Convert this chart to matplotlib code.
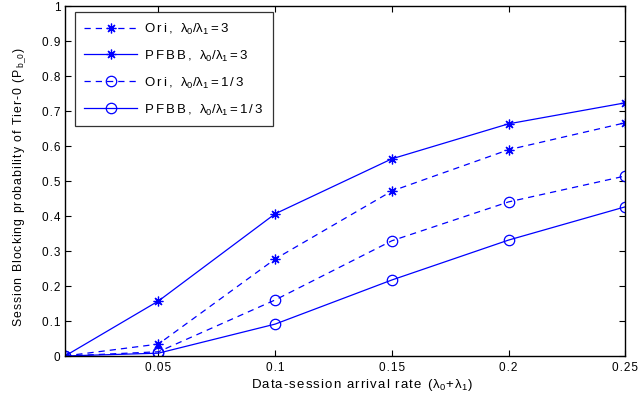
import matplotlib
matplotlib.use("Agg")
import matplotlib.pyplot as plt

plt.rcParams['font.family'] = ['Liberation Sans', 'DejaVu Sans']
plt.rcParams['mathtext.fontset'] = 'custom'
plt.rcParams['mathtext.rm'] = 'Liberation Sans'
plt.rcParams['mathtext.it'] = 'Liberation Sans'

x = [0.01, 0.05, 0.1, 0.15, 0.2, 0.25]
ori_3 = [0.0, 0.034, 0.277, 0.471, 0.589, 0.666]
pfbb_3 = [0.0, 0.157, 0.406, 0.563, 0.663, 0.723]
ori_13 = [0.0, 0.012, 0.160, 0.329, 0.440, 0.514]
pfbb_13 = [0.0, 0.008, 0.091, 0.217, 0.331, 0.426]

labels = [r'Ori, $\lambda_0/\lambda_1$=3', r'PFBB, $\lambda_0/\lambda_1$=3',
          r'Ori, $\lambda_0/\lambda_1$=1/3', r'PFBB, $\lambda_0/\lambda_1$=1/3']
xticks = [0.05, 0.1, 0.15, 0.2, 0.25]
xticklabels = ['0.05', '0.1', '0.15', '0.2', '0.25']
yticks = [0, 0.1, 0.2, 0.3, 0.4, 0.5, 0.6, 0.7, 0.8, 0.9, 1]
yticklabels = ['0', '0.1', '0.2', '0.3', '0.4', '0.5', '0.6', '0.7', '0.8', '0.9', '1']
xlabel = r'Data-session arrival rate ($\lambda_0$+$\lambda_1$)'
ylabel = r'Session Blocking probability of Tier-0 (P$_{b\_0}$)'

HS = '\u200a'


def sp(s, n=1):
    """Add letter spacing (hair spaces) outside mathtext segments."""
    sep = HS * n
    parts = s.split('$')
    out = []
    for i, p in enumerate(parts):
        if i % 2 == 0:
            out.append(sep.join(list(p)))
        else:
            out.append('$' + p + '$')
    return sep.join([o for o in out if o != ''])


fig = plt.figure(figsize=(6.38, 4.02), dpi=100)
ax = fig.add_axes([0.102, 0.112, 0.878, 0.871])
c = '#0000ff'
ast = (8, 2, 0)
ax.plot(x, ori_3, linestyle=(0, (5, 4)), color=c, lw=0.9, marker=ast, ms=7, mew=0.9, label=sp(labels[0], 2))
ax.plot(x, pfbb_3, linestyle='-', color=c, lw=0.9, marker=ast, ms=7, mew=0.9, label=sp(labels[1], 2))
ax.plot(x, ori_13, linestyle=(0, (5, 4)), color=c, lw=0.9, marker='o', ms=7.5, mfc='none', mew=0.9, label=sp(labels[2], 2))
ax.plot(x, pfbb_13, linestyle='-', color=c, lw=0.9, marker='o', ms=7.5, mfc='none', mew=0.9, label=sp(labels[3], 2))

ax.set_xlim(0.01, 0.25)
ax.set_ylim(0, 1)
ax.set_xticks(xticks)
ax.set_xticklabels([sp(t) for t in xticklabels])
ax.set_yticks(yticks)
ax.set_yticklabels([sp(t) for t in yticklabels])
ax.tick_params(direction='in', top=True, right=True, labelsize=8.5, length=4, width=0.8)
for s in ax.spines.values():
    s.set_linewidth(1.0)
ax.set_xlabel(sp(xlabel), fontsize=9.5, labelpad=2)
ax.xaxis.label.set_x(0.531)
ax.set_ylabel(sp(ylabel), fontsize=8.8, labelpad=10)
ax.yaxis.label.set_y(0.486)
leg = ax.legend(loc='upper left', fontsize=9.5, frameon=True, fancybox=False,
                edgecolor='black', handlelength=4.0, borderpad=0.7, labelspacing=0.88,
                handletextpad=0.5, borderaxespad=0, bbox_to_anchor=(0.018, 0.982))
leg.get_frame().set_linewidth(0.9)
fig.savefig('out.png', dpi=100)
